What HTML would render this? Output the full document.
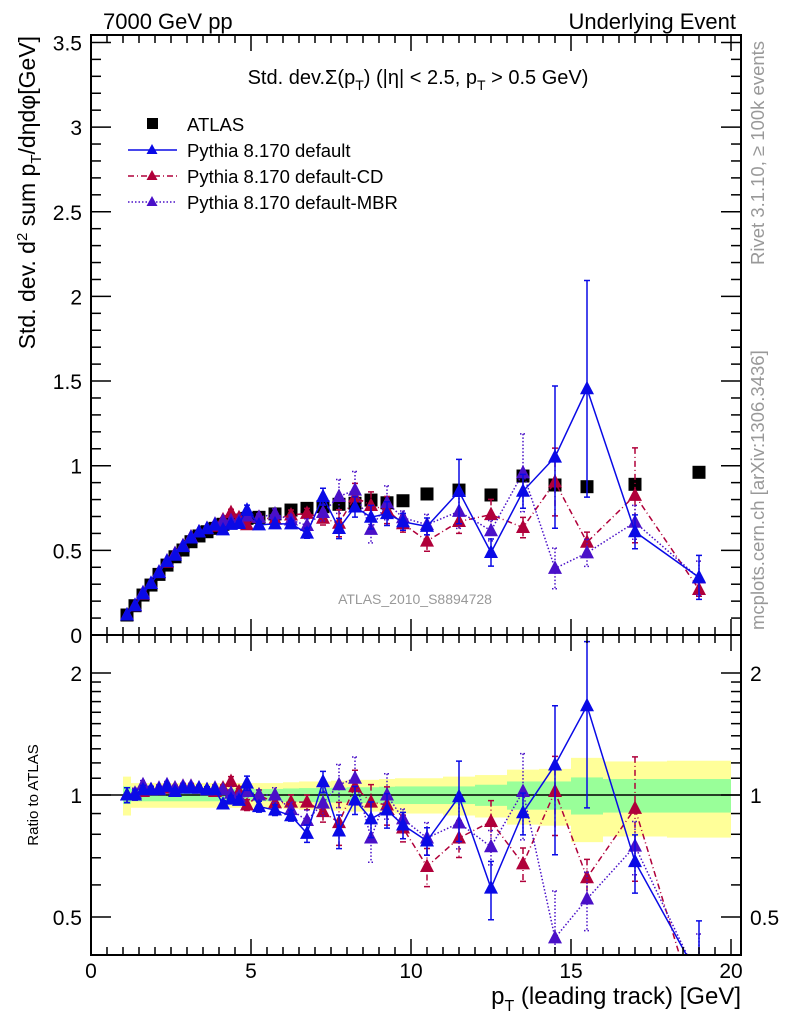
<!DOCTYPE html>
<html><head><meta charset="utf-8"><style>
html,body{margin:0;padding:0;background:#fff;}
svg{display:block;font-family:"Liberation Sans",sans-serif;}
</style></head><body>
<svg id="chart" width="786" height="1024" viewBox="0 0 786 1024" xmlns="http://www.w3.org/2000/svg">
<defs>
<clipPath id="clipMain"><rect x="91" y="35" width="650" height="600"/></clipPath>
<clipPath id="clipRatio"><rect x="91" y="635" width="650" height="320"/></clipPath>
</defs>
<text x="103" y="29" font-size="22">7000 GeV pp</text>
<text x="736" y="29" font-size="22" text-anchor="end">Underlying Event</text>
<g id="bands" clip-path="url(#clipRatio)"></g>
<line x1="91" x2="741" y1="795" y2="795" stroke="#000" stroke-width="1.5"/>
<g id="series"></g>
<rect x="91" y="35" width="650" height="600" fill="none" stroke="#000" stroke-width="2"/>
<rect x="91" y="635" width="650" height="320" fill="none" stroke="#000" stroke-width="2"/>
<g id="ticks" stroke="#000" stroke-width="1.5"></g>
<g id="labels" font-size="21"></g>
<text x="418" y="84" font-size="20" text-anchor="middle">Std. dev.Σ(p<tspan font-size="14" dy="6">T</tspan><tspan dy="-6">) (|η| &lt; 2.5, p</tspan><tspan font-size="14" dy="6">T</tspan><tspan dy="-6"> &gt; 0.5 GeV)</tspan></text>
<g font-size="18.5">
<rect x="147" y="118" width="11" height="11" fill="#000"/>
<text x="187" y="131">ATLAS</text>
<line x1="128" x2="177" y1="150" y2="150" stroke="#0a0ae6" stroke-width="1.5"/>
<polygon points="152,144 146.5,154 157.5,154" fill="#0a0ae6"/>
<text x="187" y="157">Pythia 8.170 default</text>
<line x1="128" x2="177" y1="176" y2="176" stroke="#b0003a" stroke-width="1.5" stroke-dasharray="6,3,1,3"/>
<polygon points="152,170 146.5,180 157.5,180" fill="#b0003a"/>
<text x="187" y="183">Pythia 8.170 default-CD</text>
<line x1="128" x2="177" y1="202" y2="202" stroke="#4a10c8" stroke-width="1.5" stroke-dasharray="1.5,2"/>
<polygon points="152,196 146.5,206 157.5,206" fill="#4a10c8"/>
<text x="187" y="209">Pythia 8.170 default-MBR</text>
</g>
<text x="415" y="604" font-size="14" fill="#999" text-anchor="middle">ATLAS_2010_S8894728</text>
<text transform="translate(35,36) rotate(-90)" font-size="23" text-anchor="end">Std. dev. d<tspan font-size="15" dy="-8">2</tspan><tspan dy="8"> sum p</tspan><tspan font-size="15" dy="6">T</tspan><tspan dy="-6">/dηdφ[GeV]</tspan></text>
<text transform="translate(38,795) rotate(-90)" font-size="15" text-anchor="middle">Ratio to ATLAS</text>
<text x="741" y="1004" font-size="24" text-anchor="end">p<tspan font-size="16" dy="7">T</tspan><tspan dy="-7"> (leading track) [GeV]</tspan></text>
<text transform="translate(764,265) rotate(-90)" font-size="18.5" fill="#999">Rivet 3.1.10, ≥ 100k events</text>
<text transform="translate(764,630) rotate(-90)" font-size="18.5" fill="#999">mcplots.cern.ch [arXiv:1306.3436]</text>
</svg>
<script>
const binX = [1.125,1.375,1.625,1.875,2.125,2.375,2.625,2.875,3.125,3.375,3.625,3.875,4.125,4.375,4.625,4.875,5.25,5.75,6.25,6.75,7.25,7.75,8.25,8.75,9.25,9.75,10.5,11.5,12.5,13.5,14.5,15.5,17,19];
const binHalf = [0.125,0.125,0.125,0.125,0.125,0.125,0.125,0.125,0.125,0.125,0.125,0.125,0.125,0.125,0.125,0.125,0.25,0.25,0.25,0.25,0.25,0.25,0.25,0.25,0.25,0.25,0.5,0.5,0.5,0.5,0.5,0.5,1,1];
const atlasVals = [0.118,0.173,0.236,0.295,0.358,0.413,0.462,0.502,0.551,0.585,0.610,0.630,0.654,0.669,0.679,0.689,0.695,0.715,0.738,0.748,0.758,0.772,0.778,0.797,0.781,0.793,0.833,0.856,0.827,0.939,0.886,0.876,0.890,0.961];
const defaultRatio = [1.00,1.00,1.03,1.03,1.03,1.05,1.02,1.04,1.04,1.04,1.03,1.03,0.95,0.977,0.97,1.07,0.936,0.918,0.889,0.804,1.078,0.815,0.972,0.873,0.918,0.843,0.77,0.99,0.589,0.904,1.186,1.66,0.685,0.354];
const cdRatio = [1.0,1.0,1.02,1.03,1.03,1.04,1.04,1.05,1.05,1.04,1.03,1.02,1.04,1.08,1.02,0.945,1.0,0.956,0.96,0.96,0.91,0.855,1.048,0.96,0.945,0.829,0.666,0.783,0.86,0.676,1.02,0.625,0.927,0.28];
const mbrRatio = [1.0,1.01,1.06,1.03,1.04,1.06,1.04,1.05,1.05,1.04,1.03,1.04,1.03,1.01,0.99,1.02,1.0,1.0,0.92,0.865,0.955,1.06,1.1,0.783,1.0,0.873,0.783,0.853,0.745,1.02,0.444,0.554,0.748,0.35];
const defaultErr = [0.005,0.005,0.006,0.006,0.007,0.008,0.008,0.009,0.01,0.01,0.011,0.012,0.012,0.013,0.014,0.03,0.02,0.02,0.02,0.03,0.05,0.06,0.06,0.07,0.07,0.05,0.05,0.19,0.08,0.1,0.42,0.64,0.1,0.13];
const cdErr = [0.005,0.005,0.006,0.006,0.007,0.008,0.008,0.009,0.01,0.01,0.011,0.012,0.012,0.02,0.02,0.02,0.02,0.03,0.03,0.03,0.04,0.08,0.08,0.08,0.08,0.05,0.06,0.07,0.09,0.06,0.2,0.06,0.28,0.04];
const mbrErr = [0.005,0.005,0.006,0.006,0.007,0.008,0.008,0.009,0.01,0.01,0.011,0.012,0.012,0.013,0.014,0.02,0.02,0.03,0.03,0.04,0.05,0.1,0.11,0.08,0.1,0.04,0.06,0.1,0.06,0.23,0.12,0.08,0.1,0.1];
const greenHalf = [0.05,0.035,0.035,0.035,0.035,0.035,0.035,0.035,0.035,0.035,0.035,0.035,0.035,0.035,0.035,0.035,0.035,0.035,0.038,0.04,0.04,0.042,0.045,0.045,0.048,0.05,0.05,0.05,0.06,0.08,0.08,0.105,0.095,0.095];
const yellowHalf = [0.11,0.07,0.07,0.07,0.07,0.07,0.07,0.07,0.07,0.07,0.07,0.07,0.07,0.07,0.07,0.07,0.07,0.07,0.075,0.08,0.08,0.085,0.09,0.09,0.095,0.1,0.1,0.11,0.12,0.155,0.16,0.235,0.21,0.215];
const xTicks = [0,5,10,15,20];
const yMainTicks = [0,0.5,1,1.5,2,2.5,3,3.5];
const yMainTickLabels = ["0","0.5","1","1.5","2","2.5","3","3.5"];
const yRatioTicks = [0.5,1,2];
const yRatioTickLabels = ["0.5","1","2"];

const NS = "http://www.w3.org/2000/svg";
const xs = v => 91 + v * 32;
const ym = v => 635 - v * 169.3;
const yr = r => 795 - 122 * Math.log2(r);
function mk(tag, attrs, parent) {
  const e = document.createElementNS(NS, tag);
  for (const k in attrs) e.setAttribute(k, attrs[k]);
  parent.appendChild(e);
  return e;
}
const bandsG = document.getElementById('bands');
const seriesG = document.getElementById('series');
const ticksG = document.getElementById('ticks');
const labelsG = document.getElementById('labels');

binX.forEach((x, i) => {
  const x0 = xs(x - binHalf[i]), x1 = xs(x + binHalf[i]);
  const yb = mk('rect', {x: x0, width: x1 - x0, y: yr(1 + yellowHalf[i]), height: yr(1 - yellowHalf[i]) - yr(1 + yellowHalf[i]), fill: '#ffff99'}, bandsG);
  
  
  const gb = mk('rect', {x: x0, width: x1 - x0, y: yr(1 + greenHalf[i]), height: yr(1 - greenHalf[i]) - yr(1 + greenHalf[i]), fill: '#99ff99'}, bandsG);
  
  
});

function drawSeries(name, ratios, errs, color, dash) {
  const mainG = mk('g', {'clip-path': 'url(#clipMain)'}, seriesG);
  
  
  const ratG = mk('g', {'clip-path': 'url(#clipRatio)'}, seriesG);
  
  
  const vals = ratios.map((r, i) => r * atlasVals[i]);
  const ptsM = binX.map((x, i) => xs(x) + ',' + ym(vals[i])).join(' ');
  const ptsR = binX.map((x, i) => xs(x) + ',' + yr(ratios[i])).join(' ');
  const lm = mk('polyline', {points: ptsM, fill: 'none', stroke: color, 'stroke-width': 1.5, 'stroke-dasharray': dash}, mainG);
  
  
  const lr = mk('polyline', {points: ptsR, fill: 'none', stroke: color, 'stroke-width': 1.5, 'stroke-dasharray': dash}, ratG);
  
  
  binX.forEach((x, i) => {
    const cx = xs(x);
    [[mainG, ym(vals[i] + errs[i]), ym(Math.max(vals[i] - errs[i], 0.001)), ym(vals[i])],
     [ratG, yr((vals[i] + errs[i]) / atlasVals[i]), yr(Math.max(vals[i] - errs[i], 0.01) / atlasVals[i]), yr(ratios[i])]].forEach(([g, yt, yb, yc]) => {
      const eb = mk('path', {d: `M${cx},${yt}V${yb}M${cx-3},${yt}H${cx+3}M${cx-3},${yb}H${cx+3}`, stroke: color, 'stroke-width': 1.5, fill: 'none', 'stroke-dasharray': dash}, g);
      
      
      const t = mk('polygon', {points: `${cx},${yc-8} ${cx-7},${yc+5.5} ${cx+7},${yc+5.5}`, fill: color}, g);
      
      
    });
  });
}

const atlasG = mk('g', {}, seriesG);


binX.forEach((x, i) => {
  const s = mk('rect', {x: xs(x) - 6.5, y: ym(atlasVals[i]) - 6.5, width: 13, height: 13, fill: '#000'}, atlasG);
  
  
});
drawSeries('default-cd', cdRatio, cdErr, '#b0003a', '6,3,1,3');
drawSeries('default-mbr', mbrRatio, mbrErr, '#4a10c8', '1.5,2');
drawSeries('default', defaultRatio, defaultErr, '#0a0ae6', 'none');

function tick(x1, y1, x2, y2) { mk('line', {x1, y1, x2, y2}, ticksG); }
for (let v = 0; v <= 20.3; v += 0.5) {
  const x = xs(v);
  const maj = Math.abs(v % 5) < 1e-9;
  const L = maj ? 16 : 8;
  tick(x, 635, x, 635 - L); tick(x, 35, x, 35 + L);
  tick(x, 955, x, 955 - L); tick(x, 635, x, 635 + L);
}
for (let v = 0; v <= 3.55; v += 0.1) {
  const y = ym(v);
  const maj = Math.abs(Math.round(v * 10) % 5) === 0;
  const L = maj ? 20 : 10;
  tick(91, y, 91 + L, y); tick(741, y, 741 - L, y);
}
[0.5,0.6,0.7,0.8,0.9,1,1.1,1.2,1.3,1.4,1.5,1.6,1.7,1.8,1.9,2].forEach(r => {
  const y = yr(r);
  const maj = yRatioTicks.includes(r);
  const L = maj ? 20 : 10;
  tick(91, y, 91 + L, y); tick(741, y, 741 - L, y);
});

xTicks.forEach(v => {
  const t = mk('text', {x: xs(v), y: 978, 'text-anchor': 'middle'}, labelsG);
  
  
  t.textContent = v;
});
yMainTicks.forEach((v, i) => {
  const t = mk('text', {x: 82, y: ym(v) + 8, 'text-anchor': 'end'}, labelsG);
  
  
  t.textContent = yMainTickLabels[i];
});
yRatioTicks.forEach((v, i) => {
  const t = mk('text', {x: 82, y: yr(v) + 8, 'text-anchor': 'end'}, labelsG);
  
  
  t.textContent = yRatioTickLabels[i];
  const t2 = mk('text', {x: 750, y: yr(v) + 8}, labelsG);
  
  
  t2.textContent = yRatioTickLabels[i];
});
</script>
</body></html>
